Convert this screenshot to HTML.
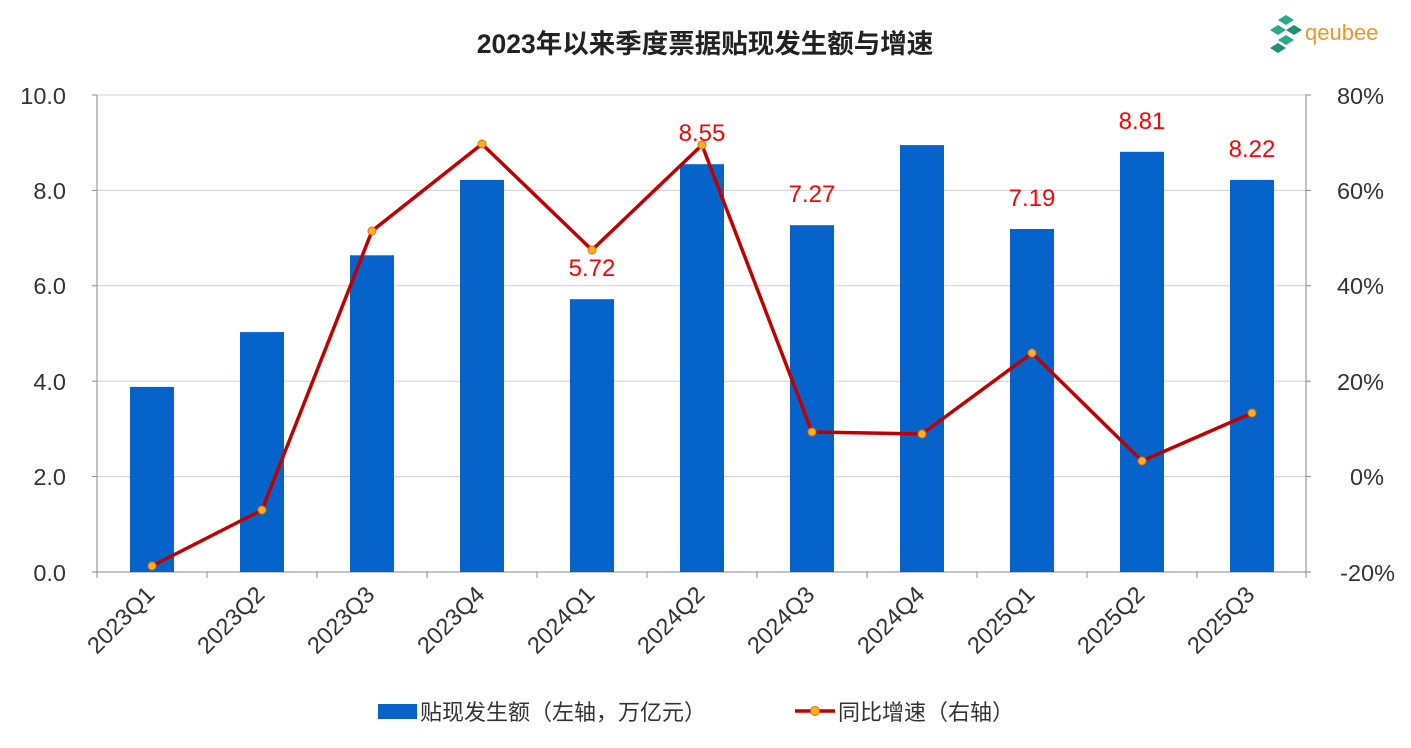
<!DOCTYPE html>
<html><head><meta charset="utf-8"><style>
html,body{margin:0;padding:0;background:#fff;}
svg{display:block;font-family:"Liberation Sans","Noto Sans CJK SC",sans-serif;}
</style></head><body>
<svg width="1411" height="748" viewBox="0 0 1411 748" xmlns="http://www.w3.org/2000/svg">
<rect width="1411" height="748" fill="#fff"/>
<text x="705" y="53" text-anchor="middle" font-size="26.5" font-weight="bold" fill="#222">2023年以来季度票据贴现发生额与增速</text>
<!-- logo -->
<g fill="#2aa88a">
<polygon points="1278,20 1286,15 1294,20 1286,25"/>
<polygon points="1270,30 1278,25 1286,30 1278,35"/>
<polygon points="1286,30 1294,25 1302,30 1294,35" fill="#1f8f75"/>
<polygon points="1278,40 1286,35 1294,40 1286,45"/>
<polygon points="1270,48 1278,43 1286,48 1278,53" fill="#1f8f75"/>
</g>
<text x="1305" y="40" font-size="22" fill="#f0962a">qeubee</text>
<!-- grid -->
<g stroke="#d0d0d0" stroke-width="1">
<line x1="97" x2="1306" y1="95" y2="95"/>
<line x1="97" x2="1306" y1="190.4" y2="190.4"/>
<line x1="97" x2="1306" y1="285.8" y2="285.8"/>
<line x1="97" x2="1306" y1="381.2" y2="381.2"/>
<line x1="97" x2="1306" y1="476.6" y2="476.6"/>
</g>
<g stroke="#888" stroke-width="1">
<line x1="97" x2="97" y1="95" y2="572"/>
<line x1="1306" x2="1306" y1="95" y2="572"/>
<line x1="92" x2="1311" y1="572" y2="572"/>
<line x1="92" x2="97" y1="95" y2="95"/><line x1="92" x2="97" y1="190.4" y2="190.4"/><line x1="92" x2="97" y1="285.8" y2="285.8"/><line x1="92" x2="97" y1="381.2" y2="381.2"/><line x1="92" x2="97" y1="476.6" y2="476.6"/>
<line x1="1306" x2="1311" y1="95" y2="95"/><line x1="1306" x2="1311" y1="190.4" y2="190.4"/><line x1="1306" x2="1311" y1="285.8" y2="285.8"/><line x1="1306" x2="1311" y1="381.2" y2="381.2"/><line x1="1306" x2="1311" y1="476.6" y2="476.6"/>
<line x1="97" x2="97" y1="572" y2="578"/><line x1="207" x2="207" y1="572" y2="578"/><line x1="317" x2="317" y1="572" y2="578"/><line x1="427" x2="427" y1="572" y2="578"/><line x1="537" x2="537" y1="572" y2="578"/><line x1="647" x2="647" y1="572" y2="578"/><line x1="757" x2="757" y1="572" y2="578"/><line x1="867" x2="867" y1="572" y2="578"/><line x1="977" x2="977" y1="572" y2="578"/><line x1="1087" x2="1087" y1="572" y2="578"/><line x1="1197" x2="1197" y1="572" y2="578"/><line x1="1306" x2="1306" y1="572" y2="578"/>
</g>
<g font-size="23.5" fill="#333" text-anchor="end">
<text x="66" y="104">10.0</text><text x="66" y="199">8.0</text><text x="66" y="294">6.0</text><text x="66" y="390">4.0</text><text x="66" y="485">2.0</text><text x="66" y="581">0.0</text>
</g>
<g font-size="23.5" fill="#333" text-anchor="end">
<text x="1384" y="104">80%</text><text x="1384" y="199">60%</text><text x="1384" y="294">40%</text><text x="1384" y="390">20%</text><text x="1384" y="485">0%</text><text x="1395" y="581">-20%</text>
</g>
<!-- bars -->
<g fill="#0563c9">
<rect x="130" y="386.9" width="44" height="185.1"/>
<rect x="240" y="332.1" width="44" height="239.9"/>
<rect x="350" y="255.3" width="44" height="316.7"/>
<rect x="460" y="179.9" width="44" height="392.1"/>
<rect x="570" y="299.2" width="44" height="272.8"/>
<rect x="680" y="164.2" width="44" height="407.8"/>
<rect x="790" y="225.2" width="44" height="346.8"/>
<rect x="900" y="145.1" width="44" height="426.9"/>
<rect x="1010" y="229.0" width="44" height="343.0"/>
<rect x="1120" y="151.8" width="44" height="420.2"/>
<rect x="1230" y="179.9" width="44" height="392.1"/>
</g>
<g font-size="24" fill="#ff0000" text-anchor="middle">
<text x="592" y="276">5.72</text>
<text x="702" y="141">8.55</text>
<text x="812" y="202">7.27</text>
<text x="1032" y="206">7.19</text>
<text x="1142" y="129">8.81</text>
<text x="1252" y="157">8.22</text>
</g>
<polyline fill="none" stroke="#c00000" stroke-width="3.5" stroke-linejoin="round" points="152,566 262,510 372,231 482,144 592,250 702,145 812,432 922,434 1032,353 1142,461 1252,413"/>
<g fill="#ffb020" stroke="#e07000" stroke-width="1">
<circle cx="152" cy="566" r="4"/><circle cx="262" cy="510" r="4"/><circle cx="372" cy="231" r="4"/><circle cx="482" cy="144" r="4"/><circle cx="592" cy="250" r="4"/><circle cx="702" cy="145" r="4"/><circle cx="812" cy="432" r="4"/><circle cx="922" cy="434" r="4"/><circle cx="1032" cy="353" r="4"/><circle cx="1142" cy="461" r="4"/><circle cx="1252" cy="413" r="4"/>
</g>
<g font-size="23.5" fill="#333" text-anchor="end">
<text transform="translate(156,596) rotate(-45)">2023Q1</text>
<text transform="translate(266,596) rotate(-45)">2023Q2</text>
<text transform="translate(376,596) rotate(-45)">2023Q3</text>
<text transform="translate(486,596) rotate(-45)">2023Q4</text>
<text transform="translate(596,596) rotate(-45)">2024Q1</text>
<text transform="translate(706,596) rotate(-45)">2024Q2</text>
<text transform="translate(816,596) rotate(-45)">2024Q3</text>
<text transform="translate(926,596) rotate(-45)">2024Q4</text>
<text transform="translate(1036,596) rotate(-45)">2025Q1</text>
<text transform="translate(1146,596) rotate(-45)">2025Q2</text>
<text transform="translate(1256,596) rotate(-45)">2025Q3</text>
</g>
<!-- legend -->
<rect x="378" y="704" width="39" height="15" fill="#0563c9"/>
<text x="420" y="720" font-size="22" fill="#333">贴现发生额（左轴，万亿元）</text>
<line x1="795" x2="835" y1="711" y2="711" stroke="#c00000" stroke-width="3.5"/>
<circle cx="815" cy="711" r="4.5" fill="#ffb020" stroke="#e07000"/>
<text x="838" y="720" font-size="22" fill="#333">同比增速（右轴）</text>
</svg>
</body></html>
